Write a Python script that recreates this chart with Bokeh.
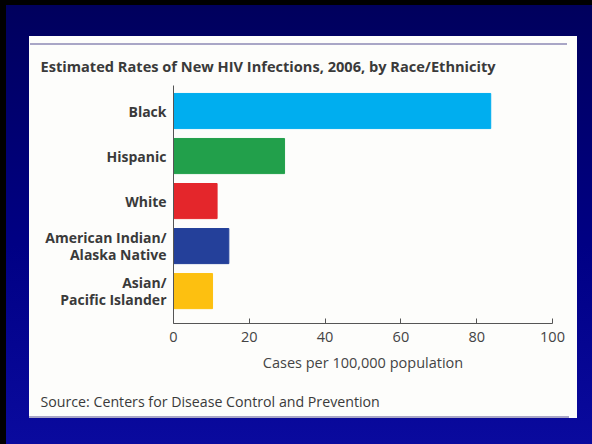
from bokeh.plotting import figure
from bokeh.models import Range1d, FixedTicker, Title, ColumnDataSource
from bokeh.embed import file_html
from bokeh.resources import INLINE

categories = ["Black", "Hispanic", "White", "American Indian/\nAlaska Native", "Asian/\nPacific Islander"]
rates = [83.7, 29.3, 11.5, 14.6, 10.3]
colors = ["#00aeef", "#22a04b", "#e4262b", "#24409a", "#fdc010"]
x_ticks = [0, 20, 40, 60, 80, 100]
title_text = "Estimated Rates of New HIV Infections, 2006, by Race/Ethnicity"
x_label = "Cases per 100,000 population"
source_text = "Source: Centers for Disease Control and Prevention"

positions = list(range(len(categories)))
src = ColumnDataSource(dict(y=positions, right=rates, color=colors))

FONT = "Open Sans"

p = figure(width=592, height=444, output_backend="svg", toolbar_location=None,
           x_range=Range1d(0, 100), y_range=Range1d(4.72, -0.567),
           min_border_left=173, min_border_right=40, min_border_top=85, min_border_bottom=121,
           title=title_text)

p.styles = {
    "background": (
        "linear-gradient(#a9a6c6,#a9a6c6) 30px 43px / 537px 2px no-repeat, "
        "linear-gradient(#a9a6c6,#a9a6c6) 29px 416px / 540px 2px no-repeat, "
        "linear-gradient(#fdfdfb,#fdfdfb) 29px 36px / 548px 382px no-repeat, "
        "linear-gradient(to bottom, #00005c 0%, #000084 55%, #0a0a9e 100%)"
    ),
    "box-shadow": "inset 6px 5px 0 0 #000",
}
p.border_fill_color = None
p.background_fill_color = None
p.outline_line_color = None
p.grid.visible = False

p.hbar(y="y", right="right", left=0, height=0.78, color="color", source=src)

p.title.align = "left"
p.title.offset = -133
p.title.standoff = 20
p.title.text_font = FONT
p.title.text_font_size = "14.6px"
p.title.text_font_style = "bold"
p.title.text_color = "#3a3a3a"

xa = p.xaxis[0]
xa.ticker = FixedTicker(ticks=x_ticks)
xa.axis_label = x_label
xa.axis_label_text_font = FONT
xa.axis_label_text_font_size = "14.5px"
xa.axis_label_text_font_style = "normal"
xa.axis_label_text_color = "#444444"
xa.axis_label_standoff = 8
xa.major_label_text_font = FONT
xa.major_label_text_font_size = "14.5px"
xa.major_label_text_color = "#444444"
xa.major_label_standoff = 8
xa.major_tick_in = 5
xa.major_tick_out = 0
xa.minor_tick_line_color = None
xa.axis_line_color = "#555555"
xa.major_tick_line_color = "#555555"

ya = p.yaxis[0]
ya.ticker = FixedTicker(ticks=positions)
ya.major_label_overrides = {i: c for i, c in zip(positions, categories)}
ya.major_label_text_font = FONT
ya.major_label_text_font_size = "14px"
ya.major_label_text_font_style = "bold"
ya.major_label_text_color = "#3a3a3a"
ya.major_label_text_line_height = 0.87
ya.major_tick_in = 0
ya.major_tick_out = 0
ya.minor_tick_line_color = None
ya.major_label_standoff = 7
ya.axis_line_color = "#555555"

p.add_layout(Title(text=source_text, align="left", offset=-133, vertical_align="top", standoff=35,
                   text_font=FONT, text_font_size="14.2px", text_font_style="normal",
                   text_color="#3a3a3a"), "below")

open("out.html", "w").write(file_html(p, INLINE))
